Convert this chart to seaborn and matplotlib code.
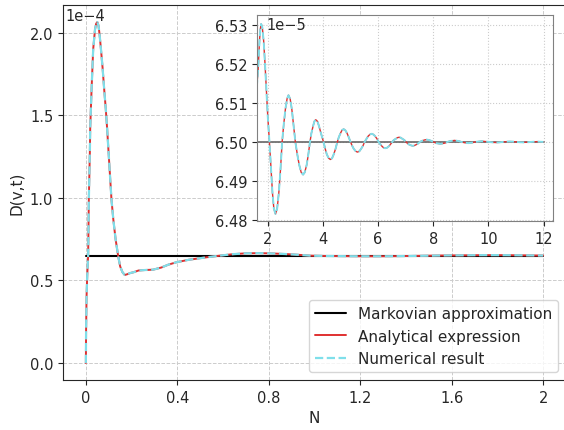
import numpy as np
import pandas as pd
import seaborn as sns
import matplotlib
matplotlib.use("Agg")
import matplotlib.pyplot as plt
from matplotlib.ticker import MultipleLocator, FuncFormatter

# values, D in units of 1e-5
n_early = [0.000, 0.001, 0.003, 0.006, 0.010, 0.013, 0.0175, 0.019, 0.025, 0.032,
           0.040, 0.045, 0.050, 0.055, 0.060, 0.066, 0.073, 0.080, 0.087, 0.093,
           0.100, 0.112, 0.120, 0.130, 0.141, 0.150, 0.160, 0.170, 0.180, 0.195,
           0.210, 0.230, 0.260, 0.294, 0.330, 0.360, 0.396, 0.450, 0.528, 0.586,
           0.644, 0.700, 0.750, 0.800, 0.870, 0.930, 0.980, 1.050, 1.120, 1.200,
           1.260, 1.330, 1.420, 1.500, 1.560]
d_early = [0.0, 2.0, 4.0, 5.3, 6.5, 9.9, 12.8, 14.2, 16.6, 19.0,
           20.2, 20.55, 20.65, 20.45, 19.9, 19.0, 17.9, 16.6, 15.4, 14.2,
           12.6, 9.9, 8.7, 7.5, 6.5, 5.85, 5.5, 5.33, 5.37, 5.45,
           5.5, 5.6, 5.63, 5.65, 5.78, 5.95, 6.10, 6.25, 6.40, 6.50,
           6.59, 6.64, 6.65, 6.64, 6.60, 6.55, 6.50, 6.48, 6.47, 6.462,
           6.46, 6.465, 6.48, 6.498, 6.509]

n_late = [1.60, 1.65, 1.70, 1.73, 1.76, 1.80, 1.85, 1.90, 1.95, 2.00,
          2.06, 2.12, 2.17, 2.22, 2.28, 2.34, 2.40, 2.46, 2.52, 2.58,
          2.64, 2.70, 2.75, 2.81, 2.87, 2.93, 3.00, 3.07, 3.14, 3.21,
          3.28, 3.34, 3.41, 3.47, 3.53, 3.58, 3.64, 3.69, 3.74, 3.80,
          3.86, 3.93, 4.02, 4.08, 4.14, 4.21, 4.27, 4.33, 4.39, 4.46,
          4.52, 4.58, 4.64, 4.69, 4.75, 4.81, 4.87, 4.93, 5.00, 5.06,
          5.12, 5.19, 5.25, 5.32, 5.38, 5.45, 5.51, 5.58, 5.64, 5.70,
          5.77, 5.83, 5.89, 5.96, 6.02, 6.08, 6.14, 6.20, 6.26, 6.32,
          6.39, 6.45, 6.51, 6.57, 6.64, 6.70, 6.76, 6.82, 6.88, 6.95,
          7.01, 7.07, 7.13, 7.20, 7.26, 7.32, 7.38, 7.45, 7.51, 7.60,
          7.68, 7.76, 7.84, 7.92, 8.01, 8.10, 8.18, 8.26, 8.34, 8.42,
          8.51, 8.60, 8.68, 8.77, 8.86, 8.94, 9.02, 9.14, 9.27, 9.40,
          9.52, 9.65, 9.77, 9.90, 10.02, 10.15, 10.27, 10.40, 10.52, 10.65,
          10.77, 10.90, 11.02, 11.15, 11.27, 11.40, 11.52, 11.65, 11.77, 11.90,
          12.00]
d_late = [6.5140, 6.5185, 6.5260, 6.5290, 6.5303, 6.5295, 6.5260, 6.5200, 6.5130, 6.5065,
          6.5000, 6.4928, 6.4869, 6.4829, 6.4815, 6.4829, 6.4869, 6.4928, 6.5000, 6.5046,
          6.5085, 6.5111, 6.5120, 6.5111, 6.5085, 6.5046, 6.5000, 6.4968, 6.4941, 6.4922,
          6.4916, 6.4922, 6.4941, 6.4968, 6.5000, 6.5022, 6.5040, 6.5053, 6.5057, 6.5053,
          6.5040, 6.5022, 6.5000, 6.4983, 6.4968, 6.4958, 6.4955, 6.4958, 6.4968, 6.4983,
          6.5000, 6.5013, 6.5023, 6.5030, 6.5033, 6.5030, 6.5023, 6.5013, 6.5000, 6.4990,
          6.4982, 6.4976, 6.4974, 6.4976, 6.4982, 6.4990, 6.5000, 6.5008, 6.5015, 6.5019,
          6.5021, 6.5019, 6.5015, 6.5008, 6.5000, 6.4994, 6.4989, 6.4985, 6.4984, 6.4985,
          6.4989, 6.4994, 6.5000, 6.5005, 6.5008, 6.5011, 6.5012, 6.5011, 6.5008, 6.5005,
          6.5000, 6.4996, 6.4993, 6.4991, 6.4990, 6.4991, 6.4993, 6.4996, 6.5000, 6.5003,
          6.5005, 6.5006, 6.5005, 6.5003, 6.5000, 6.4997, 6.4996, 6.4995, 6.4996, 6.4997,
          6.5000, 6.5002, 6.5003, 6.5004, 6.5003, 6.5002, 6.5000, 6.4998, 6.4997, 6.4998,
          6.5000, 6.5001, 6.5002, 6.5001, 6.5000, 6.4999, 6.49985, 6.4999, 6.5000, 6.50007,
          6.5001, 6.50007, 6.5000, 6.49993, 6.4999, 6.49993, 6.5000, 6.50005, 6.50008, 6.50005,
          6.5000]

markov_level = 6.5  # 1e-5
labels = ["Markovian approximation", "Analytical expression", "Numerical result"]

sns.set_style("ticks")
plt.rcParams["font.family"] = "DejaVu Sans"
plt.rcParams["font.size"] = 11
plt.rcParams["xtick.labelsize"] = 10.5
plt.rcParams["ytick.labelsize"] = 10.5

df = pd.DataFrame({"N": n_early + n_late, "D": np.array(d_early + d_late) * 1e-5})
df["M"] = markov_level * 1e-5
main = df[df.N <= 2.0]
zoom = df[df.N >= 1.6]

fig = plt.figure(figsize=(5.64, 4.31), dpi=100)
ax = fig.add_axes([63 / 564, 50 / 431, 503 / 564, 375 / 431])

sns.lineplot(data=main, x="N", y="M", color="k", lw=1.5, label=labels[0], ax=ax)
sns.lineplot(data=main, x="N", y="D", color="#e03030", lw=1.4, label=labels[1], ax=ax)
sns.lineplot(data=main, x="N", y="D", color="#7fdfea", lw=1.6, linestyle="--",
             label=labels[2], ax=ax)

ax.set_xticks([0, 0.4, 0.8, 1.2, 1.6, 2])
ax.xaxis.set_major_formatter(FuncFormatter(lambda v, p: "%g" % v))
ax.yaxis.set_major_locator(MultipleLocator(0.5e-4))
ax.ticklabel_format(axis="y", style="sci", scilimits=(0, 0))
ax.grid(True, ls="--", color="0.8", lw=0.7)
ax.spines["right"].set_visible(False)
ax.set_xlabel("N")
ax.set_ylabel("D(v,t)")
ax.legend(loc="lower right", fontsize=11)

# inset
axi = fig.add_axes([257.3 / 564, 209 / 431, 295.4 / 564, 206 / 431])
sns.lineplot(data=zoom, x="N", y="M", color="0.4", lw=1.2, ax=axi)
sns.lineplot(data=zoom, x="N", y="D", color="#e03030", lw=1.0, ax=axi)
sns.lineplot(data=zoom, x="N", y="D", color="#7fdfea", lw=1.4, linestyle="--", ax=axi)
axi.set_xlim(1.62, 12.33)
axi.set_ylim(6.4797e-5, 6.5326e-5)
axi.yaxis.set_major_locator(MultipleLocator(1e-7))
axi.ticklabel_format(axis="y", style="sci", scilimits=(0, 0), useOffset=False)
axi.grid(True, ls=":", color="0.8", lw=0.8)
for s in axi.spines.values():
    s.set_color("0.5")
axi.set_xlabel("")
axi.set_ylabel("")

# offset texts drawn inside the axes, as in the reference
fig.canvas.draw()
for a, xo in [(ax, 0.005), (axi, 0.03)]:
    off = a.yaxis.get_major_formatter().get_offset()
    a.yaxis.offsetText.set_visible(False)
    a.text(xo, 0.992, off, transform=a.transAxes, va="top", ha="left", fontsize=10.5)

fig.savefig("out.png", dpi=100)
